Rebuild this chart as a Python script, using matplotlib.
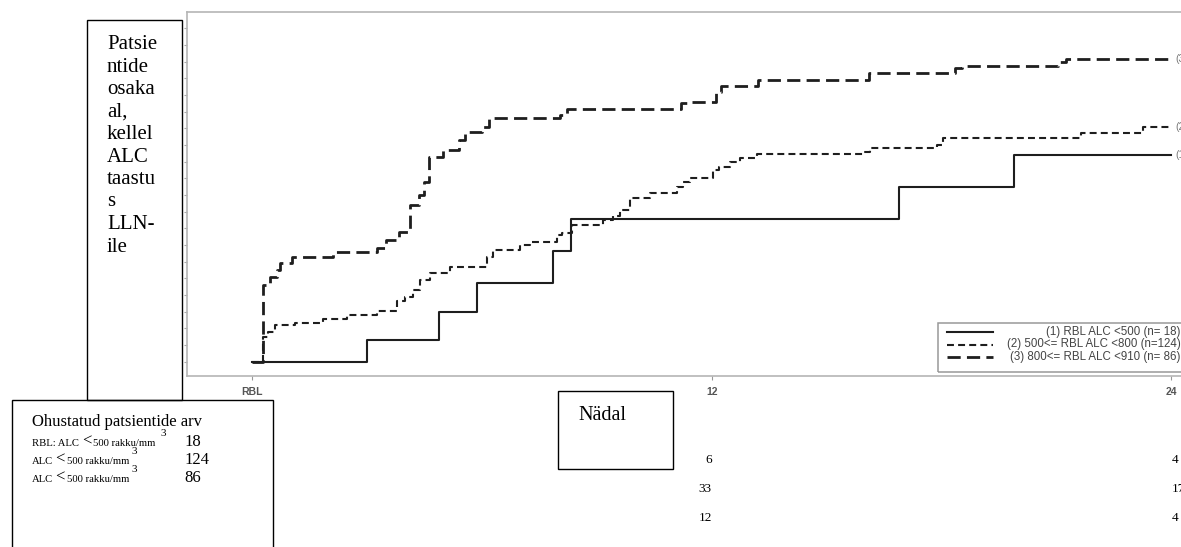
import matplotlib
matplotlib.use('Agg')
import matplotlib.pyplot as plt
import numpy as np
from matplotlib.patches import Rectangle
from matplotlib.lines import Line2D
from matplotlib.transforms import blended_transform_factory

plt.rcParams['lines.scale_dashes'] = False

# cumulative % of patients with ALC recovered to LLN, by week from RBL
weeks_1 = [0, 2.99, 4.88, 5.88, 7.86, 8.32, 16.88, 19.90, 24]
pct_1 = [0, 6.5, 15.0, 23.5, 33.2, 42.7, 52.5, 62.0, 62.0]

weeks_2 = [0, 0.29, 0.42, 0.6, 1.12, 1.85, 2.48, 3.26, 3.78, 4.0, 4.2, 4.38, 4.64, 5.17,
           6.13, 6.29, 6.99, 7.25, 7.96, 8.09, 8.35, 9.16, 9.42, 9.6, 9.86, 10.38, 11.09,
           11.24, 11.43, 12.03, 12.2, 12.47, 12.73, 13.17, 15.94, 16.12, 17.87, 18.03,
           21.63, 23.25, 24]
pct_2 = [0, 7.5, 8.8, 11.0, 11.7, 12.8, 14.0, 15.3, 18.2, 19.4, 21.5, 24.5, 26.6, 28.4,
         31.4, 33.5, 35.0, 36.0, 38.0, 38.7, 41.0, 42.5, 43.7, 45.4, 49.1, 50.6, 52.5,
         54.0, 55.1, 57.5, 58.4, 60.0, 61.1, 62.3, 62.9, 64.0, 65.0, 67.0,
         68.5, 70.5, 70.5]

weeks_3 = [0, 0.29, 0.47, 0.65, 0.73, 1.04, 2.11, 3.26, 3.5, 3.84, 4.12, 4.36, 4.5, 4.62,
           4.98, 5.4, 5.56, 6.0, 6.18, 8.04, 8.22, 11.19, 11.43, 12.1, 12.24, 13.2, 16.1,
           18.34, 18.52, 21.03, 21.24, 24]
pct_3 = [0, 23.0, 25.4, 27.5, 29.6, 31.5, 32.9, 34.1, 36.5, 39.0, 47.0, 50.0, 54.0, 61.5,
         63.5, 66.5, 69.0, 70.5, 73.0, 74.0, 75.8, 77.6, 77.9, 81.0, 82.7, 84.5, 86.5,
         88.0, 88.7, 90.0, 90.7, 90.7]

legend_labels = ['(1) RBL ALC <500 (n= 18)',
                 '(2) 500<= RBL ALC <800 (n=124)',
                 '(3) 800<= RBL ALC <910 (n= 86)']
tick_weeks = [0, 12, 24]
tick_labels = ['RBL', '12', '24']

# patients at risk
risk_rows = ['RBL: ALC', 'ALC', 'ALC']
risk_0 = [18, 124, 86]
risk_12 = [6, 33, 12]
risk_24 = [4, 17, 4]

W, H = 1181, 547
SERIF = 'Liberation Serif'
SANS = 'Liberation Sans'


def fx(x):
    return x / W


def fy(y):
    return 1 - y / H


def box(x0, y0, x1, y1):
    fig.add_artist(Rectangle((fx(x0), fy(y1)), (x1 - x0) / W, (y1 - y0) / H,
                             transform=fig.transFigure, fill=False,
                             edgecolor='black', lw=1.0))


fig = plt.figure(figsize=(W / 100, H / 100), dpi=100)
ax = fig.add_axes([fx(187), fy(376), (1194.4 - 187) / W, (376 - 12) / H])

ax.step(weeks_1, pct_1, where='post', color='#1e1e1e', lw=1.5)
ax.step(weeks_2, pct_2, where='post', color='#1e1e1e', lw=1.5, linestyle=(0, (5, 3)))
ax.step(weeks_3, pct_3, where='post', color='#1e1e1e', lw=2.0, linestyle=(0, (9.5, 4.5)))

for i, p in enumerate([pct_1, pct_2, pct_3]):
    ax.text(24.1, p[-1], '(%d)' % (i + 1), fontsize=7.5, color='#777777',
            family=SANS, ha='left', va='center')

ax.set_xlim(-1.70, 24.6)
ax.set_ylim(-4.3, 104.9)
ax.set_xticks(tick_weeks)
ax.set_xticklabels(tick_labels, fontsize=7.5, fontweight='bold', color='#555555', family=SANS)
ax.set_yticks(np.arange(0, 105, 5))
ax.set_yticklabels([])
ax.tick_params(axis='x', length=3, width=0.8, color='#999999', pad=5)
ax.tick_params(axis='y', length=2, width=0.8, color='#aaaaaa')
for s in ax.spines.values():
    s.set_color('#b5b5b5')
    s.set_linewidth(1.2)

# legend drawn by hand (SAS style)
fig.add_artist(Rectangle((fx(938), fy(371.7)), (1200 - 938) / W, (371.7 - 322.7) / H,
                         transform=fig.transFigure, fill=False,
                         edgecolor='#999999', lw=1.1))
leg_styles = [dict(lw=1.5), dict(lw=1.5, linestyle=(0, (5, 3))), dict(lw=2.0, linestyle=(0, (9.5, 4.5)))]
for i, (lab, st) in enumerate(zip(legend_labels, leg_styles)):
    yy = 332.3 + i * 12.2
    fig.add_artist(Line2D([fx(947), fx(993)], [fy(yy), fy(yy)], transform=fig.transFigure,
                          color='#1e1e1e', **st))
    fig.text(fx(1180.5), fy(yy), lab, fontsize=8.3, color='#444444', family=SANS,
             ha='right', va='center')

# y label box
box(87.3, 20, 181.7, 400)
fig.text(fx(107), fy(35),
         'Patsie\nntide\nosaka\nal,\nkellel\nALC\ntaastu\ns\nLLN-\nile',
         fontsize=15, family=SERIF, ha='left', va='top', linespacing=1.25)

# x label box
box(558.4, 391, 673, 469.3)
fig.text(fx(578.8), fy(420), 'Nädal', fontsize=14.5, family=SERIF, ha='left', va='baseline')

# at-risk box
box(12, 400, 273, 560)
fig.text(fx(32.3), fy(426), 'Ohustatud patsientide arv', fontsize=12, family=SERIF,
         ha='left', va='baseline')
row_base = [445.5, 463.5, 481.7]
lt_x = [81.7, 55, 55]
unit_x = [93.3, 66.7, 66.7]
sup_x = [160.7, 131.7, 131.7]
for i in range(3):
    yb = row_base[i]
    fig.text(fx(32.3), fy(yb), risk_rows[i], fontsize=7.7, family=SERIF, va='baseline')
    fig.text(fx(lt_x[i]), fy(yb), '<', fontsize=12, family=SERIF, va='baseline')
    fig.text(fx(unit_x[i]), fy(yb), '500 rakku/mm', fontsize=7.7, family=SERIF, va='baseline')
    fig.text(fx(sup_x[i]), fy(yb - 10), '3', fontsize=8, family=SERIF, va='baseline')
    fig.text(fx(184), fy(yb), str(risk_0[i]), fontsize=12, family=SERIF, va='baseline')

trans = blended_transform_factory(ax.transData, fig.transFigure)
num_base = [462.7, 491.5, 520.7]
for i in range(3):
    ax.text(12, fy(num_base[i]), str(risk_12[i]), transform=trans, fontsize=9.5,
            family=SERIF, ha='right', va='baseline', clip_on=False)
    ax.text(24, fy(num_base[i]), str(risk_24[i]), transform=trans, fontsize=9.5,
            family=SERIF, ha='left', va='baseline', clip_on=False)

fig.savefig('out.png', dpi=100)
